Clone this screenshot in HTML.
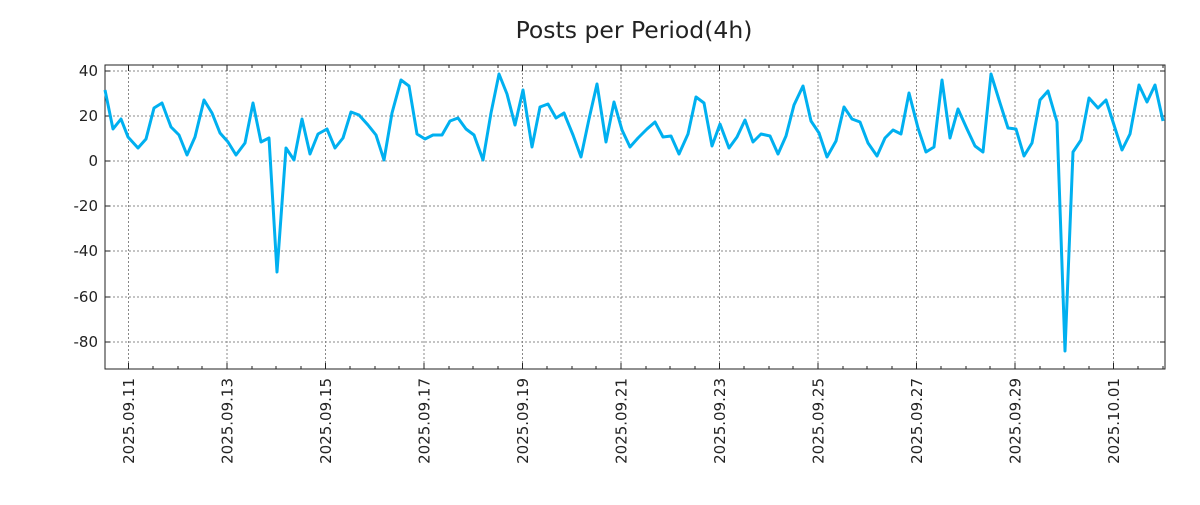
<!DOCTYPE html>
<html><head><style>body{margin:0;background:#fff}</style></head><body>
<svg width="1200" height="500" xmlns="http://www.w3.org/2000/svg" font-family="DejaVu Sans, Liberation Sans, sans-serif">
<rect width="1200" height="500" fill="#fff"/>
<text x="634" y="38" font-size="23.5" text-anchor="middle" fill="#222">Posts per Period(4h)</text>
<g stroke="#888" stroke-dasharray="2,2" stroke-width="1">
<line x1="105" x2="1165" y1="71" y2="71"/><line x1="105" x2="1165" y1="116" y2="116"/><line x1="105" x2="1165" y1="161" y2="161"/><line x1="105" x2="1165" y1="206" y2="206"/><line x1="105" x2="1165" y1="251" y2="251"/><line x1="105" x2="1165" y1="297" y2="297"/><line x1="105" x2="1165" y1="342" y2="342"/>
<line x1="128.5" x2="128.5" y1="65" y2="369"/><line x1="227" x2="227" y1="65" y2="369"/><line x1="325.5" x2="325.5" y1="65" y2="369"/><line x1="424" x2="424" y1="65" y2="369"/><line x1="522.5" x2="522.5" y1="65" y2="369"/><line x1="621" x2="621" y1="65" y2="369"/><line x1="719.5" x2="719.5" y1="65" y2="369"/><line x1="818" x2="818" y1="65" y2="369"/><line x1="916.5" x2="916.5" y1="65" y2="369"/><line x1="1015" x2="1015" y1="65" y2="369"/><line x1="1113.5" x2="1113.5" y1="65" y2="369"/>
</g>
<rect x="105" y="65" width="1060" height="304" fill="none" stroke="#222" stroke-width="1"/>
<g stroke="#222" stroke-width="1">
<path d="M105 71h5M105 116h5M105 161h5M105 206h5M105 251h5M105 297h5M105 342h5M1165 71h-5M1165 116h-5M1165 161h-5M1165 206h-5M1165 251h-5M1165 297h-5M1165 342h-5"/>
<path d="M128.5 369v-6M227 369v-6M325.5 369v-6M424 369v-6M522.5 369v-6M621 369v-6M719.5 369v-6M818 369v-6M916.5 369v-6M1015 369v-6M1113.5 369v-6M128.5 65v6M227 65v6M325.5 65v6M424 65v6M522.5 65v6M621 65v6M719.5 65v6M818 65v6M916.5 65v6M1015 65v6M1113.5 65v6"/>
<path d="M153 369v-3M178 369v-3M202 369v-3M252 369v-3M276 369v-3M301 369v-3M350 369v-3M375 369v-3M399 369v-3M449 369v-3M473 369v-3M498 369v-3M547 369v-3M572 369v-3M596 369v-3M646 369v-3M670 369v-3M695 369v-3M744 369v-3M769 369v-3M793 369v-3M843 369v-3M867 369v-3M892 369v-3M941 369v-3M966 369v-3M990 369v-3M1040 369v-3M1064 369v-3M1089 369v-3M1138 369v-3M1163 369v-3"/>
<path d="M153 65v3M178 65v3M202 65v3M252 65v3M276 65v3M301 65v3M350 65v3M375 65v3M399 65v3M449 65v3M473 65v3M498 65v3M547 65v3M572 65v3M596 65v3M646 65v3M670 65v3M695 65v3M744 65v3M769 65v3M793 65v3M843 65v3M867 65v3M892 65v3M941 65v3M966 65v3M990 65v3M1040 65v3M1064 65v3M1089 65v3M1138 65v3M1163 65v3"/>
</g>
<g font-size="15" fill="#222" text-anchor="end">
<text x="98" y="76">40</text><text x="98" y="121">20</text><text x="98" y="166">0</text><text x="98" y="211">-20</text><text x="98" y="256">-40</text><text x="98" y="302">-60</text><text x="98" y="347">-80</text>
</g>
<g font-size="15" fill="#222" text-anchor="end">
<text transform="translate(134,378) rotate(-90)">2025.09.11</text>
<text transform="translate(232.5,378) rotate(-90)">2025.09.13</text>
<text transform="translate(331,378) rotate(-90)">2025.09.15</text>
<text transform="translate(429.5,378) rotate(-90)">2025.09.17</text>
<text transform="translate(528,378) rotate(-90)">2025.09.19</text>
<text transform="translate(626.5,378) rotate(-90)">2025.09.21</text>
<text transform="translate(725,378) rotate(-90)">2025.09.23</text>
<text transform="translate(823.5,378) rotate(-90)">2025.09.25</text>
<text transform="translate(922,378) rotate(-90)">2025.09.27</text>
<text transform="translate(1020.5,378) rotate(-90)">2025.09.29</text>
<text transform="translate(1119,378) rotate(-90)">2025.10.01</text>
</g>
<polyline fill="none" stroke="#00b0f0" stroke-width="3" stroke-linejoin="round" points="105,90 113,129 121,119 128,137 138,148 146,139 154,108 162,103 171,127 179,135 187,155 195,137 204,100 212,113 220,133 228,142 236,155 245,143 253,103 261,142 269,138 277,272 286,148 294,160 302,119 310,154 318,134 327,129 335,148 343,138 351,112 359,115 368,125 376,135 384,160 392,113 401,80 409,86 417,134 425,139 433,135 442,135 450,121 458,118 466,129 474,135 483,160 491,113 499,74 507,94 515,125 523,90 532,147 540,107 548,104 556,118 564,113 573,135 581,157 589,119 597,84 606,142 614,102 622,130 630,147 638,138 647,129 655,122 663,137 671,136 679,154 688,134 696,97 704,103 712,146 720,124 729,148 737,137 745,120 753,142 761,134 770,136 778,154 786,136 794,105 803,86 811,121 819,133 827,157 836,141 844,107 852,119 860,122 868,143 877,156 885,138 893,130 901,134 909,93 918,128 926,152 934,147 942,80 950,138 958,109 967,129 975,146 983,152 991,74 1000,103 1008,128 1016,129 1024,156 1032,143 1040,100 1048,91 1057,122 1065,351 1073,152 1081,140 1089,98 1098,108 1106,100 1114,125 1122,150 1130,134 1139,85 1147,102 1155,85 1163,121"/>
</svg>
</body></html>
